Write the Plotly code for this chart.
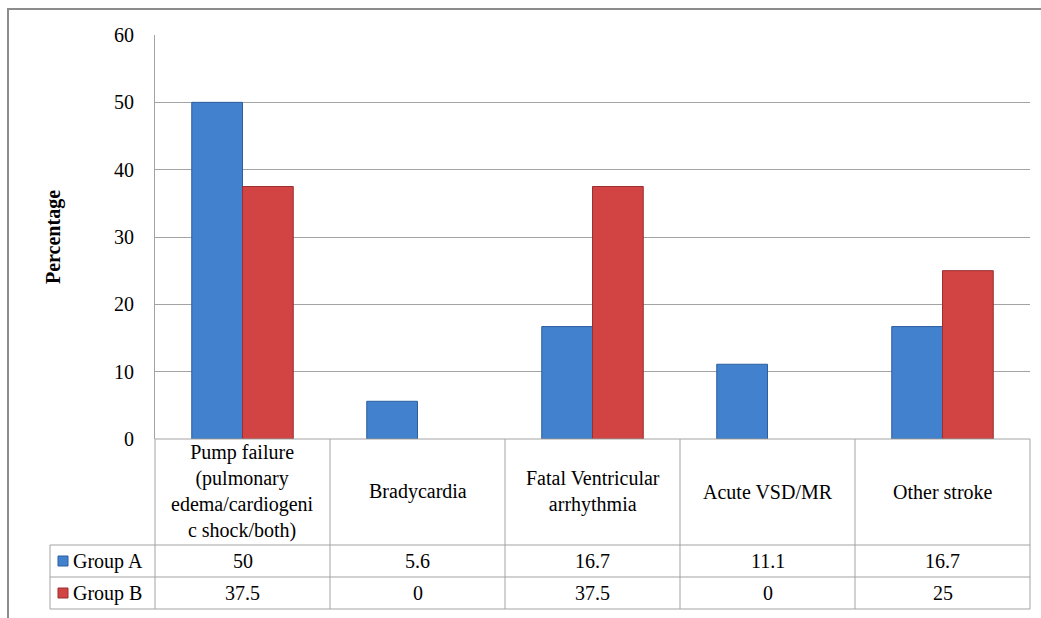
import plotly.graph_objects as go

# Chart data
categories = [
    "Pump failure<br>(pulmonary<br>edema/cardiogeni<br>c shock/both)",
    "Bradycardia",
    "Fatal Ventricular<br>arrhythmia",
    "Acute VSD/MR",
    "Other stroke",
]
group_names = ["Group A", "Group B"]
group_a = [50, 5.6, 16.7, 11.1, 16.7]
group_b = [37.5, 0, 37.5, 0, 25]
y_ticks = [0, 10, 20, 30, 40, 50, 60]

series = [group_a, group_b]
fill_colors = ["#4281CE", "#D24343"]
edge_colors = ["#2D5F9E", "#9A2F2F"]

W, H = 1041, 618
L, R, T, B = 155, 11, 35, 179
PW, PH = W - L - R, H - T - B
FONT = "Liberation Serif"
GRID = "#A3A3A3"


def px_x(p):
    return (p - L) / PW


def px_y(p):
    return (T + PH - p) / PH


fig = go.Figure()
xs = list(range(len(categories)))
for name, vals, fc, ec in zip(group_names, series, fill_colors, edge_colors):
    fig.add_trace(go.Bar(
        x=xs, y=vals, name=name,
        marker=dict(color=fc,
                    line=dict(color=ec, width=[1 if v > 0 else 0 for v in vals])),
        showlegend=False,
    ))

shapes = []


def hline(y0, x0, x1, color=GRID, width=1):
    shapes.append(dict(type="line", xref="paper", yref="paper",
                       x0=px_x(x0), x1=px_x(x1), y0=px_y(y0), y1=px_y(y0),
                       line=dict(color=color, width=width), layer="above"))


def vline(x, y0, y1, color=GRID, width=1):
    shapes.append(dict(type="line", xref="paper", yref="paper",
                       x0=px_x(x), x1=px_x(x), y0=px_y(y0), y1=px_y(y1),
                       line=dict(color=color, width=width), layer="above"))


# Data table grid under the plot
row_cat_top, row_a_top, row_b_top, table_bottom = 439, 545, 577, 609
table_left, legend_left, table_right = 155, 50, 1030
col_w = (table_right - table_left) / len(categories)

hline(row_cat_top, table_left, table_right)
for yy in (row_a_top, row_b_top, table_bottom):
    hline(yy, legend_left, table_right)
for i in range(len(categories) + 1):
    vline(table_left + i * col_w, row_cat_top, table_bottom)
vline(legend_left, row_a_top, table_bottom)

# Outer chart frame
shapes.append(dict(type="rect", xref="paper", yref="paper",
                   x0=px_x(8), x1=px_x(1060), y0=px_y(9), y1=px_y(640),
                   line=dict(color="#8C8C8C", width=2), layer="below"))

annotations = []
font = dict(family=FONT, size=20, color="#000000")

# Category row
for i, cat in enumerate(categories):
    annotations.append(dict(
        x=i, xref="x", y=px_y((row_cat_top + row_a_top) / 2), yref="paper",
        text=cat, showarrow=False, font=font, align="center",
        xanchor="center", yanchor="middle"))

# Value rows with legend keys
row_tops = [row_a_top, row_b_top]
row_bottoms = [row_b_top, table_bottom]
for name, vals, fc, ec, top, bot in zip(group_names, series, fill_colors,
                                         edge_colors, row_tops, row_bottoms):
    cy = (top + bot) / 2
    for i, v in enumerate(vals):
        annotations.append(dict(
            x=i, xref="x", y=px_y(cy), yref="paper",
            text=f"{v:g}", showarrow=False, font=font,
            xanchor="center", yanchor="middle"))
    shapes.append(dict(type="rect", xref="paper", yref="paper",
                       x0=px_x(58), x1=px_x(68), y0=px_y(cy - 5), y1=px_y(cy + 5),
                       fillcolor=fc, line=dict(color=ec, width=1), layer="above"))
    annotations.append(dict(
        x=px_x(71), xref="paper", y=px_y(cy), yref="paper",
        text=name, showarrow=False, font=font,
        xanchor="left", yanchor="middle"))

# Y axis title
annotations.append(dict(
    x=px_x(53), xref="paper", y=0.5, yref="paper",
    text="<b>Percentage</b>", showarrow=False, textangle=-90,
    font=dict(family=FONT, size=20, color="#000000"),
    xanchor="center", yanchor="middle"))

fig.update_layout(
    width=W, height=H,
    margin=dict(l=L, r=R, t=T, b=B),
    paper_bgcolor="white", plot_bgcolor="white",
    barmode="group", bargap=0.42, bargroupgap=0,
    shapes=shapes, annotations=annotations,
    xaxis=dict(range=[-0.5, len(categories) - 0.5], showticklabels=False,
               showgrid=False, zeroline=False, showline=False, ticks=""),
    yaxis=dict(range=[0, 60], tickvals=y_ticks, showgrid=True,
               gridcolor=GRID, gridwidth=1, zeroline=False,
               showline=True, linecolor=GRID, linewidth=1, ticks="",
               ticklabelstandoff=16,
               tickfont=dict(family=FONT, size=20, color="#000000")),
    font=dict(family=FONT),
)

fig.write_html("out.html")
